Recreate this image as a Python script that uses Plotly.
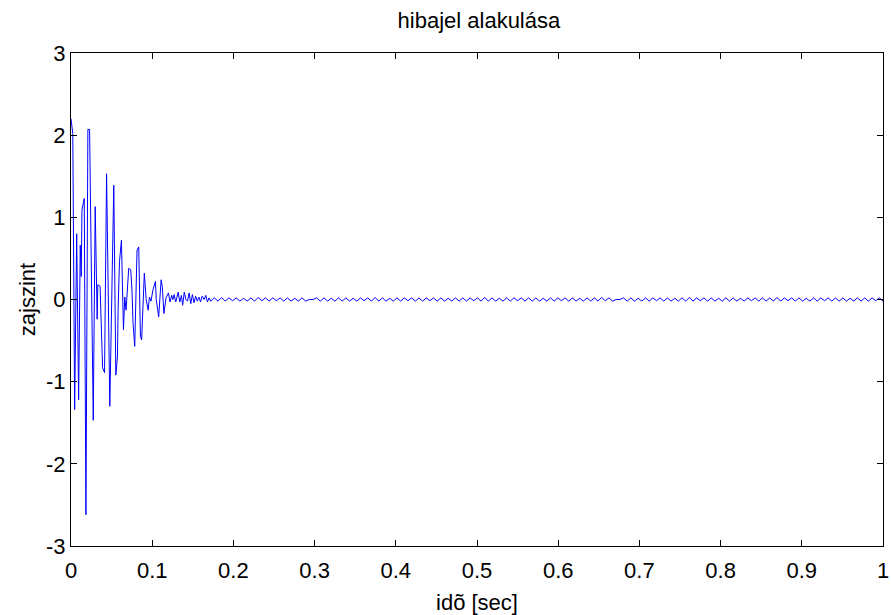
import numpy as np
import plotly.graph_objects as go

# early transient (time [s], value)
t_early = [0.000, 0.0022, 0.0045, 0.0070, 0.0094, 0.0114, 0.0126, 0.0135, 0.0163, 0.0184,
           0.0208, 0.0229, 0.0274, 0.0298, 0.0322, 0.0330, 0.0358, 0.0389, 0.0413, 0.0438,
           0.0478, 0.0527, 0.0552, 0.0572, 0.0580, 0.0597, 0.0621, 0.0646, 0.0662, 0.0678,
           0.0711, 0.0736, 0.0752, 0.0764, 0.0785, 0.0813, 0.0834, 0.0855, 0.0870, 0.0903,
           0.0926, 0.0950, 0.0966, 0.0985, 0.1010, 0.1040, 0.1050, 0.1080, 0.1110, 0.1125,
           0.1144, 0.1170, 0.1200, 0.1220, 0.1240, 0.1255, 0.1270, 0.1290, 0.1320, 0.1340,
           0.1360, 0.1375, 0.1395, 0.1415, 0.1435, 0.1455, 0.1475, 0.1495, 0.1515, 0.1535,
           0.1555, 0.1575, 0.1595, 0.1615, 0.1640, 0.1660, 0.1680, 0.1700, 0.1720]
y_early = [2.20, 2.02, -1.34, 0.80, -1.22, 0.66, 0.28, 1.09, 1.23, -2.62,
           2.07, 2.07, -1.47, 1.13, -0.24, 0.18, 0.16, -0.83, -0.89, 1.53,
           -1.30, 1.39, -0.92, -0.70, -0.13, 0.46, 0.72, -0.37, 0.03, -0.13,
           0.38, 0.36, 0.09, -0.29, -0.57, 0.60, 0.64, -0.45, -0.49, 0.32,
           0.00, -0.13, 0.03, -0.02, 0.12, 0.22, 0.00, -0.21, 0.24, 0.15,
           -0.17, 0.02, 0.08, -0.03, 0.05, 0.00, 0.06, -0.03, 0.09, -0.03,
           0.05, -0.07, 0.09, 0.00, -0.02, 0.08, -0.05, 0.06, -0.04, 0.04,
           -0.02, 0.03, -0.03, 0.04, 0.00, 0.05, -0.03, 0.02, -0.02]

# steady-state ripple: peak/trough values, half-period spacing
tail_start = 0.1765
tail_step = 0.0045
y_tail = [
    0.02, -0.02, 0.025, -0.02, 0.02, -0.015, 0.02, -0.02, 0.015, -0.02, 0.02, -0.02, 0.025, -0.015, 0.02, -0.02, 0.02, -0.015, 0.02, -0.02,
    0.02, -0.02, 0.015, -0.02, 0.02, -0.02, 0.0, 0.0, 0.02, -0.02, 0.02, -0.02, 0.015, -0.02, 0.02, -0.02, 0.02, -0.02, 0.015, -0.02,
    0.02, -0.015, 0.02, -0.02, 0.025, -0.02, 0.02, -0.02, 0.015, -0.02, 0.02, -0.02, 0.02, -0.015, 0.02, -0.02, 0.02, -0.02, 0.02, -0.015,
    0.02, -0.02, 0.02, -0.02, 0.015, -0.02, 0.02, -0.02, 0.02, -0.02, 0.02, -0.015, 0.02, -0.02, 0.025, -0.02, 0.02, -0.02, 0.015, -0.02,
    0.02, -0.02, 0.02, -0.015, 0.02, -0.02, 0.02, -0.02, 0.02, -0.02, 0.015, -0.02, 0.02, -0.02, 0.02, -0.015, 0.02, -0.02, 0.02, -0.02,
    0.015, -0.02, 0.02, -0.02, 0.02, -0.02, 0.025, -0.015, 0.02, -0.02, 0.0, 0.0, 0.02, -0.02, 0.02, -0.02, 0.015, -0.02, 0.02, -0.02,
    0.02, -0.015, 0.02, -0.02, 0.02, -0.02, 0.015, -0.02, 0.02, -0.02, 0.025, -0.02, 0.02, -0.015, 0.02, -0.02, 0.02, -0.02, 0.015, -0.02,
    0.02, -0.02, 0.02, -0.02, 0.015, -0.02, 0.02, -0.015, 0.02, -0.02, 0.02, -0.02, 0.02, -0.02, 0.025, -0.02, 0.02, -0.015, 0.02, -0.02,
    0.02, -0.02, 0.015, -0.02, 0.02, -0.02, 0.02, -0.015, 0.02, -0.02, 0.02, -0.02, 0.02, -0.02, 0.015, -0.02, 0.02, -0.02, 0.02, -0.02,
    0.02, -0.015, 0.02, -0.02, 0.0,
]

x_ticks = [0, 0.1, 0.2, 0.3, 0.4, 0.5, 0.6, 0.7, 0.8, 0.9, 1]
x_tick_labels = ["0", "0.1", "0.2", "0.3", "0.4", "0.5", "0.6", "0.7", "0.8", "0.9", "1"]
y_ticks = [-3, -2, -1, 0, 1, 2, 3]
y_tick_labels = ["-3", "-2", "-1", "0", "1", "2", "3"]

t_tail = tail_start + tail_step * np.arange(len(y_tail))
t_all = list(t_early) + [min(v, 1.0) for v in t_tail]
y_all = list(y_early) + list(y_tail)

FONT = "Liberation Sans, Arial, Helvetica, sans-serif"
FS = 22

fig = go.Figure()
fig.add_trace(go.Scatter(x=t_all, y=y_all, mode="lines",
                         line=dict(color="#0000ff", width=1), showlegend=False,
                         hoverinfo="skip", cliponaxis=True))

axis_common = dict(
    showgrid=False, zeroline=False, showline=True, linecolor="black", linewidth=1,
    mirror="allticks", ticks="inside", ticklen=6, tickwidth=1, tickcolor="black",
    tickfont=dict(family=FONT, size=FS, color="black"), ticklabeloverflow="allow",
    automargin=False,
)

fig.update_layout(
    width=891, height=615,
    margin=dict(l=71, r=8, t=53, b=69),
    paper_bgcolor="white", plot_bgcolor="white",
    title=dict(text="hibajel alakulása", x=0.5375, xanchor="center", y=0.967, yanchor="middle",
               font=dict(family=FONT, size=FS, color="black"),
               automargin=False),
    xaxis=dict(range=[0, 1], tickvals=x_ticks, ticktext=x_tick_labels, ticklabelstandoff=5,
               title=dict(text="idõ [sec]", font=dict(family=FONT, size=FS, color="black"), standoff=12),
               **axis_common),
    yaxis=dict(range=[-3, 3], tickvals=y_ticks, ticktext=y_tick_labels, ticklabelstandoff=0,
               title=dict(text="zajszint", font=dict(family=FONT, size=FS, color="black"), standoff=4),
               **axis_common),
)

fig.write_html("out.html")
